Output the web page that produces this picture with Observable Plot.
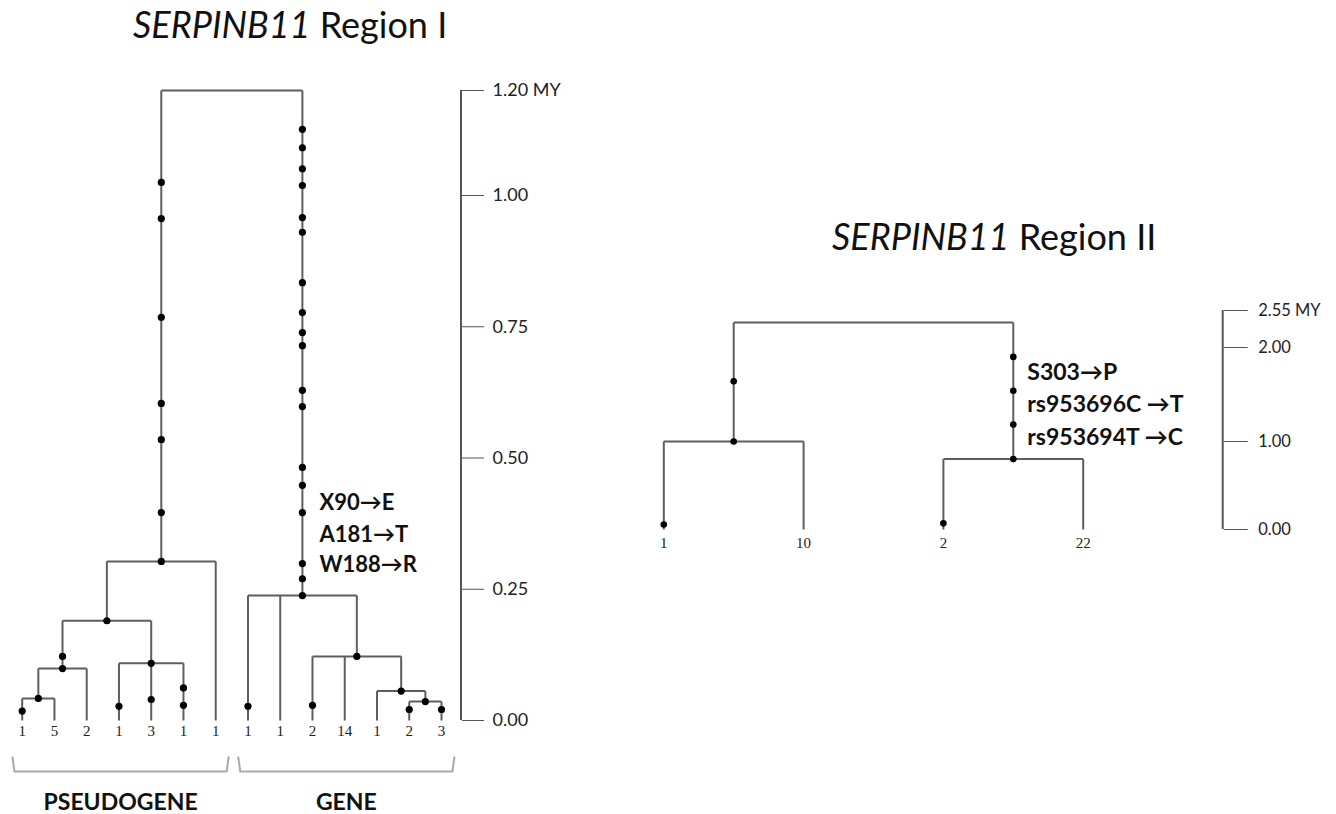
<!DOCTYPE html>
<html><head><meta charset="utf-8">
<script src="https://cdn.jsdelivr.net/npm/d3@7"></script>
<script src="https://cdn.jsdelivr.net/npm/@observablehq/plot@0.6"></script>
<style>
html,body{margin:0;padding:0;background:#fff}
body{width:1336px;height:814px;position:relative;overflow:hidden;font-family:Lato,"Open Sans",sans-serif}
.title{position:absolute;font-size:36px;line-height:1;color:#111;white-space:nowrap}
.panel{position:absolute;top:0}
</style></head><body>
<div class="title" style="left:133px;top:6px"><i>SERPINB11</i> Region I</div>
<div class="title" style="left:832px;top:218px"><i>SERPINB11</i> Region II</div>
<div class="panel" id="p1" style="left:0px"></div>
<div class="panel" id="p2" style="left:640px"></div>
<script>
// ---------- Region I data ----------
const leafLabels1 = ["1","5","2","1","3","1","1","1","1","2","14","1","2","3"];
const leafParent1 = ["D","D","C","E","E","E","A","F","F","G","G","H","I","I"];
const nodes1 = ["R","A","B","C","D","E","F","G","H","I"];
const nodeParent1 = [null,"R","A","B","C","B","R","F","G","H"];
const nodeHeight1 = [1.20,0.303,0.190,0.099,0.042,0.109,0.238,0.122,0.056,0.036];
const nodeDots1 = ["A","B","C","D","E","F","G","H","I"];
const mutBranch1 = ["A","A","A","A","A","A",
  "F","F","F","F","F","F","F","F","F","F","F","F","F","F","F","F","F",
  "C","L0","L3","L4","L5","L5","L7","L9","L12","L13"];
const mutHeight1 = [1.025,0.956,0.768,0.604,0.535,0.396,
  1.126,1.091,1.051,1.019,0.958,0.930,0.834,0.777,0.739,0.714,0.629,0.598,0.482,0.448,0.396,0.299,0.270,
  0.122,0.018,0.027,0.040,0.062,0.029,0.027,0.029,0.021,0.021];
const annotNode1 = "F";
const annotText1 = ["X90\u2192E","A181\u2192T","W188\u2192R"];
const annotHeight1 = [0.415,0.354,0.297];
const axisTicks1 = [0,0.25,0.5,0.75,1.0,1.2];
const axisLabels1 = ["0.00","0.25","0.50","0.75","1.00","1.20 MY"];
const groupNames1 = ["PSEUDOGENE","GENE"];
const groupFirst1 = [0,7];
const groupLast1 = [6,13];

// ---------- Region II data ----------
const leafLabels2 = ["1","10","2","22"];
const leafParent2 = ["L","L","M","M"];
const nodes2 = ["R","L","M"];
const nodeParent2 = [null,"R","R"];
const nodeHeight2 = [2.37,1.00,0.80];
const nodeDots2 = ["L","M"];
const mutBranch2 = ["L","M","M","M","L0","L2"];
const mutHeight2 = [1.64,1.90,1.54,1.18,0.057,0.07];
const annotNode2 = "M";
const annotText2 = ["S303\u2192P","rs953696C \u2192T","rs953694T \u2192C"];
const annotHeight2 = [1.73,1.39,1.04];
const axisTicks2 = [0,1,2,2.55];
const axisLabels2 = ["0.00","1.00","2.00","2.55 MY"];

// ---------- tree layout ----------
function layout(leafLabels, leafParent, nodes, nodeParent, nodeHeight) {
  const info = new Map();
  leafLabels.forEach((lab, i) => info.set("L" + i, {id: "L" + i, x: i, h: 0, parent: leafParent[i], leaf: true, label: lab}));
  nodes.forEach((n, i) => info.set(n, {id: n, x: null, h: nodeHeight[i], parent: nodeParent[i], leaf: false}));
  const children = new Map();
  for (const d of info.values()) if (d.parent) {
    if (!children.has(d.parent)) children.set(d.parent, []);
    children.get(d.parent).push(d.id);
  }
  function px(id) {
    const d = info.get(id);
    if (d.x != null) return d.x;
    const xs = children.get(id).map(px);
    d.x = (d3.min(xs) + d3.max(xs)) / 2;
    return d.x;
  }
  nodes.forEach(px);
  const segs = [];
  for (const d of info.values()) {
    if (d.parent) {
      const p = info.get(d.parent);
      segs.push({x1: d.x, y1: d.h, x2: d.x, y2: p.h});
    }
    if (!d.leaf) {
      const xs = children.get(d.id).map(c => info.get(c).x);
      segs.push({x1: d3.min(xs), y1: d.h, x2: d3.max(xs), y2: d.h});
    }
  }
  return {info, segs};
}

const lineColor = "#5e5e5e";

function treeMarks(T, nodeDots, mutBranch, mutHeight, annotNode, annotText, annotHeight, opt) {
  const dots = nodeDots.map(n => ({x: T.info.get(n).x, h: T.info.get(n).h}))
    .concat(mutBranch.map((b, i) => ({x: T.info.get(b).x, h: mutHeight[i]})));
  const leaves = [...T.info.values()].filter(d => d.leaf);
  const ann = annotText.map((t, i) => ({x: T.info.get(annotNode).x, h: annotHeight[i], t}));
  return [
    Plot.link(T.segs, {x1: "x1", y1: "y1", x2: "x2", y2: "y2", stroke: lineColor, strokeWidth: 2}),
    Plot.dot(dots, {x: "x", y: "h", r: opt.r, fill: "#000", stroke: "none"}),
    Plot.text(leaves, {x: "x", y: "h", text: "label", dy: opt.leafDy, fontFamily: "Liberation Serif, serif", fontSize: 15, fill: "#222"}),
    Plot.text(ann, {x: "x", y: "h", text: "t", textAnchor: "start", dx: opt.annDx, fontSize: opt.annSize, fontWeight: "bold", fill: "#111"})
  ];
}

// ---------- Plot I ----------
const T1 = layout(leafLabels1, leafParent1, nodes1, nodeParent1, nodeHeight1);
const bracketPts = [];
groupNames1.forEach((g, i) => {
  const a = groupFirst1[i] - 0.3, b = groupLast1[i] + 0.4;
  bracketPts.push({g, x: a, y: -0.070}, {g, x: a + 0.06, y: -0.097}, {g, x: b - 0.06, y: -0.097}, {g, x: b, y: -0.070});
});
const groupLab = groupNames1.map((g, i) => ({g, x: (groupFirst1[i] - 0.3 + groupLast1[i] + 0.4) / 2, y: -0.171}));

const plot1 = Plot.plot({
  width: 640, height: 814,
  marginTop: 90, marginBottom: 94, marginLeft: 21.7, marginRight: 179,
  x: {domain: [0, 13], range: [21.7, 441], axis: null},
  y: {domain: [0, 1.2]},
  style: {fontFamily: "Lato, sans-serif", background: "transparent", overflow: "visible"},
  marks: [
    ...treeMarks(T1, nodeDots1, mutBranch1, mutHeight1, annotNode1, annotText1, annotHeight1, {r: 3.6, leafDy: 11, annDx: 17, annSize: 22}),
    Plot.line(bracketPts, {x: "x", y: "y", z: "g", stroke: "#aaa", strokeWidth: 2, curve: "linear"}),
    Plot.text(groupLab, {x: "x", y: "y", text: "g", fontSize: 23, fontWeight: "bold", fill: "#111", lineAnchor: "bottom"}),
    Plot.axisY({anchor: "right", ticks: axisTicks1, tickFormat: (d) => axisLabels1[axisTicks1.indexOf(d)], tickSize: 22, tickPadding: 9, fontSize: 18, stroke: "#555", fill: "#222", label: null})
  ]
});

// ---------- Plot II ----------
const T2 = layout(leafLabels2, leafParent2, nodes2, nodeParent2, nodeHeight2);
const plot2 = Plot.plot({
  width: 696, height: 814,
  marginTop: 310, marginBottom: 285, marginLeft: 23.3, marginRight: 113.3,
  x: {domain: [0, 3], range: [23.3, 442.7], axis: null},
  y: {type: "linear", domain: [0, 1, 2, 2.55], range: [529, 441, 347, 310]},
  style: {fontFamily: "Lato, sans-serif", background: "transparent", overflow: "visible"},
  marks: [
    ...treeMarks(T2, nodeDots2, mutBranch2, mutHeight2, annotNode2, annotText2, annotHeight2, {r: 3.3, leafDy: 14, annDx: 14, annSize: 23}),
    Plot.axisY({anchor: "right", ticks: axisTicks2, tickFormat: (d) => axisLabels2[axisTicks2.indexOf(d)], tickSize: 24, tickPadding: 11, fontSize: 16.5, stroke: "#555", fill: "#222", label: null})
  ]
});

// axis spine along the frame edge where the axis is anchored
function addSpine(plot, width, marginRight, ticks) {
  const ys = plot.scale("y");
  const xEdge = width - marginRight;
  d3.select(plot).append("line")
    .attr("x1", xEdge).attr("x2", xEdge)
    .attr("y1", ys.apply(d3.min(ticks))).attr("y2", ys.apply(d3.max(ticks)))
    .attr("stroke", "#555").attr("stroke-width", 2);
}
addSpine(plot1, 640, 179, axisTicks1);
addSpine(plot2, 696, 113.3, axisTicks2);

document.getElementById("p1").appendChild(plot1);
document.getElementById("p2").appendChild(plot2);
</script>
</body></html>
